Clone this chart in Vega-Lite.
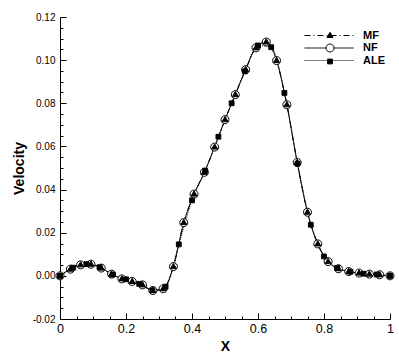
{
  "$schema": "https://vega.github.io/schema/vega-lite/v6.json",
  "width": 330,
  "height": 302,
  "autosize": {"type": "none"},
  "padding": {"left": 60, "top": 17, "right": 9, "bottom": 36},
  "config": {
    "view": {"stroke": null},
    "font": "Liberation Sans",
    "axis": {"grid": false, "domainColor": "black", "domainWidth": 1, "tickColor": "black", "tickWidth": 1, "labelColor": "black", "titleColor": "black", "labelFont": "Liberation Sans", "titleFont": "Liberation Sans", "titleFontWeight": "bold", "labelOverlap": false, "labelFlush": false}
  },
  "data": {
    "values": [
      {"series": "NF", "x": 0, "v": 0},
      {"series": "NF", "x": 0.03125, "v": 0.0031},
      {"series": "NF", "x": 0.0625, "v": 0.0051},
      {"series": "NF", "x": 0.09375, "v": 0.0054},
      {"series": "NF", "x": 0.125, "v": 0.0036},
      {"series": "NF", "x": 0.15625, "v": 0.0008},
      {"series": "NF", "x": 0.1875, "v": -0.0014},
      {"series": "NF", "x": 0.21875, "v": -0.0026},
      {"series": "NF", "x": 0.25, "v": -0.0042},
      {"series": "NF", "x": 0.28125, "v": -0.0068},
      {"series": "NF", "x": 0.3125, "v": -0.006},
      {"series": "NF", "x": 0.34375, "v": 0.0043},
      {"series": "NF", "x": 0.375, "v": 0.0247},
      {"series": "NF", "x": 0.40625, "v": 0.0379},
      {"series": "NF", "x": 0.4375, "v": 0.048},
      {"series": "NF", "x": 0.46875, "v": 0.0597},
      {"series": "NF", "x": 0.5, "v": 0.0724},
      {"series": "NF", "x": 0.53125, "v": 0.084},
      {"series": "NF", "x": 0.5625, "v": 0.0956},
      {"series": "NF", "x": 0.59375, "v": 0.1057},
      {"series": "NF", "x": 0.625, "v": 0.1084},
      {"series": "NF", "x": 0.65625, "v": 0.0998},
      {"series": "NF", "x": 0.6875, "v": 0.0793},
      {"series": "NF", "x": 0.71875, "v": 0.0526},
      {"series": "NF", "x": 0.75, "v": 0.0295},
      {"series": "NF", "x": 0.78125, "v": 0.0148},
      {"series": "NF", "x": 0.8125, "v": 0.0066},
      {"series": "NF", "x": 0.84375, "v": 0.0033},
      {"series": "NF", "x": 0.875, "v": 0.002},
      {"series": "NF", "x": 0.90625, "v": 0.0013},
      {"series": "NF", "x": 0.9375, "v": 0.0008},
      {"series": "NF", "x": 0.96875, "v": 0.0005},
      {"series": "NF", "x": 1, "v": 0},
      {"series": "MF", "x": 0, "v": 0},
      {"series": "MF", "x": 0.03125, "v": 0.0031},
      {"series": "MF", "x": 0.0625, "v": 0.0051},
      {"series": "MF", "x": 0.09375, "v": 0.0054},
      {"series": "MF", "x": 0.125, "v": 0.0036},
      {"series": "MF", "x": 0.15625, "v": 0.0008},
      {"series": "MF", "x": 0.1875, "v": -0.0014},
      {"series": "MF", "x": 0.21875, "v": -0.0026},
      {"series": "MF", "x": 0.25, "v": -0.0042},
      {"series": "MF", "x": 0.28125, "v": -0.0068},
      {"series": "MF", "x": 0.3125, "v": -0.006},
      {"series": "MF", "x": 0.34375, "v": 0.0043},
      {"series": "MF", "x": 0.375, "v": 0.0247},
      {"series": "MF", "x": 0.40625, "v": 0.0379},
      {"series": "MF", "x": 0.4375, "v": 0.048},
      {"series": "MF", "x": 0.46875, "v": 0.0597},
      {"series": "MF", "x": 0.5, "v": 0.0724},
      {"series": "MF", "x": 0.53125, "v": 0.084},
      {"series": "MF", "x": 0.5625, "v": 0.0956},
      {"series": "MF", "x": 0.59375, "v": 0.1057},
      {"series": "MF", "x": 0.625, "v": 0.1084},
      {"series": "MF", "x": 0.65625, "v": 0.0998},
      {"series": "MF", "x": 0.6875, "v": 0.0793},
      {"series": "MF", "x": 0.71875, "v": 0.0526},
      {"series": "MF", "x": 0.75, "v": 0.0295},
      {"series": "MF", "x": 0.78125, "v": 0.0148},
      {"series": "MF", "x": 0.8125, "v": 0.0066},
      {"series": "MF", "x": 0.84375, "v": 0.0033},
      {"series": "MF", "x": 0.875, "v": 0.002},
      {"series": "MF", "x": 0.90625, "v": 0.0013},
      {"series": "MF", "x": 0.9375, "v": 0.0008},
      {"series": "MF", "x": 0.96875, "v": 0.0005},
      {"series": "MF", "x": 1, "v": 0},
      {"series": "ALE", "x": 0, "v": 0},
      {"series": "ALE", "x": 0.04, "v": 0.0038},
      {"series": "ALE", "x": 0.08, "v": 0.0054},
      {"series": "ALE", "x": 0.12, "v": 0.004},
      {"series": "ALE", "x": 0.16, "v": 0.0006},
      {"series": "ALE", "x": 0.2, "v": -0.0016},
      {"series": "ALE", "x": 0.24, "v": -0.0037},
      {"series": "ALE", "x": 0.28, "v": -0.0067},
      {"series": "ALE", "x": 0.32, "v": -0.005},
      {"series": "ALE", "x": 0.36, "v": 0.0146},
      {"series": "ALE", "x": 0.4, "v": 0.035},
      {"series": "ALE", "x": 0.44, "v": 0.0488},
      {"series": "ALE", "x": 0.48, "v": 0.0645},
      {"series": "ALE", "x": 0.52, "v": 0.08},
      {"series": "ALE", "x": 0.56, "v": 0.0948},
      {"series": "ALE", "x": 0.6, "v": 0.1068},
      {"series": "ALE", "x": 0.64, "v": 0.106},
      {"series": "ALE", "x": 0.68, "v": 0.0848},
      {"series": "ALE", "x": 0.72, "v": 0.052},
      {"series": "ALE", "x": 0.76, "v": 0.0237},
      {"series": "ALE", "x": 0.8, "v": 0.009},
      {"series": "ALE", "x": 0.84, "v": 0.0037},
      {"series": "ALE", "x": 0.88, "v": 0.0019},
      {"series": "ALE", "x": 0.92, "v": 0.001},
      {"series": "ALE", "x": 0.96, "v": 0.0006},
      {"series": "ALE", "x": 1, "v": 0}
    ]
  },
  "encoding": {
    "x": {
      "field": "x", "type": "quantitative",
      "scale": {"domain": [0, 1], "nice": false, "zero": false},
      "axis": {
        "title": "X", "titleFontSize": 14, "titlePadding": 2,
        "values": [0, 0.05, 0.1, 0.15, 0.2, 0.25, 0.3, 0.35, 0.4, 0.45, 0.5, 0.55, 0.6, 0.65, 0.7, 0.75, 0.8, 0.85, 0.9, 0.95, 1],
        "labelExpr": "abs(datum.value*5-round(datum.value*5))<0.001 ? format(datum.value,'~g') : ''",
        "labelFontSize": 12.5,
        "tickSize": {"condition": {"test": "abs(datum.value*5-round(datum.value*5))<0.001", "value": -6}, "value": -3},
        "labelPadding": 9
      }
    },
    "y": {
      "field": "v", "type": "quantitative",
      "scale": {"domain": [-0.02, 0.12], "nice": false, "zero": false},
      "axis": {
        "title": "Velocity", "titleFontSize": 14, "titlePadding": 6,
        "values": [-0.02, -0.015, -0.01, -0.005, 0, 0.005, 0.01, 0.015, 0.02, 0.025, 0.03, 0.035, 0.04, 0.045, 0.05, 0.055, 0.06, 0.065, 0.07, 0.075, 0.08, 0.085, 0.09, 0.095, 0.1, 0.105, 0.11, 0.115, 0.12],
        "labelExpr": "abs(datum.value*50-round(datum.value*50))<0.001 ? replace(format(datum.value,'.2f'),'\u2212','-') : ''",
        "labelFontSize": 10,
        "tickSize": {"condition": {"test": "abs(datum.value*50-round(datum.value*50))<0.001", "value": -6}, "value": -3},
        "labelPadding": 11
      }
    }
  },
  "layer": [
    {
      "mark": {"type": "line", "interpolate": "monotone", "strokeWidth": 1, "color": "black"},
      "encoding": {
        "strokeDash": {
          "field": "series", "type": "nominal", "sort": ["MF", "NF", "ALE"],
          "scale": {"range": [[6, 3, 1, 3], [1, 0], [1, 1]]},
          "legend": {
            "orient": "none", "legendX": 263.5, "legendY": 13, "title": null,
            "symbolType": "M-4.9,0H4.9", "symbolSize": 100, "symbolStrokeColor": "black", "symbolStrokeWidth": 1,
            "labelFont": "Liberation Sans", "labelFontWeight": "bold", "labelFontSize": 11, "labelColor": "black",
            "labelOffset": 28.5, "rowPadding": 0.5, "padding": 0
          }
        }
      }
    },
    {
      "mark": {"type": "point", "strokeWidth": 1, "opacity": 1, "size": 64},
      "encoding": {
        "shape": {
          "field": "series", "type": "nominal",
          "scale": {"domain": ["MF", "NF", "ALE"], "range": ["M0,-0.8L0.75,0.5L-0.75,0.5Z", "M-1,0A1,1,0,1,0,1,0A1,1,0,1,0,-1,0Z", "M-0.6,-0.6H0.6V0.6H-0.6Z"]},
          "legend": {"orient": "none", "legendX": 264.5, "legendY": 13, "title": null, "labelOpacity": 0, "labelFontSize": 11, "rowPadding": 0.5, "padding": 0, "symbolStrokeWidth": 1, "symbolSize": 64}
        },
        "fill": {
          "field": "series", "type": "nominal",
          "scale": {"domain": ["MF", "NF", "ALE"], "range": ["black", "white", "black"]},
          "legend": {"orient": "none", "legendX": 264.5, "legendY": 13, "title": null, "labelOpacity": 0, "labelFontSize": 11, "rowPadding": 0.5, "padding": 0, "symbolStrokeWidth": 1, "symbolSize": 64}
        },
        "stroke": {
          "field": "series", "type": "nominal",
          "scale": {"domain": ["MF", "NF", "ALE"], "range": ["black", "black", "black"]},
          "legend": {"orient": "none", "legendX": 264.5, "legendY": 13, "title": null, "labelOpacity": 0, "labelFontSize": 11, "rowPadding": 0.5, "padding": 0, "symbolStrokeWidth": 1, "symbolSize": 64}
        }
      }
    }
  ]
}
